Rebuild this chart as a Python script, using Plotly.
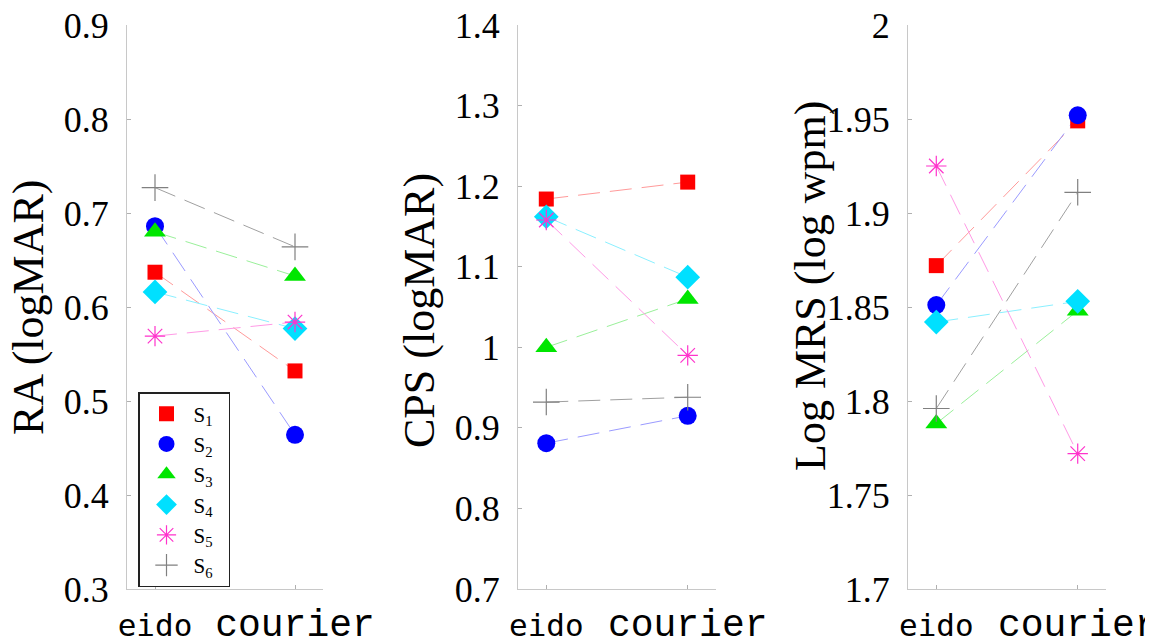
import plotly.graph_objects as go

fonts = ["eido", "courier"]
subjects = ["S<sub>1</sub>", "S<sub>2</sub>", "S<sub>3</sub>", "S<sub>4</sub>", "S<sub>5</sub>", "S<sub>6</sub>"]

ra_eido = [0.637, 0.686, 0.680, 0.616, 0.569, 0.727]
ra_courier = [0.532, 0.464, 0.633, 0.577, 0.584, 0.664]
cps_eido = [1.184, 0.881, 1.000, 1.162, 1.158, 0.932]
cps_courier = [1.205, 0.915, 1.060, 1.087, 0.990, 0.938]
mrs_eido = [1.872, 1.851, 1.788, 1.842, 1.925, 1.796]
mrs_courier = [1.949, 1.952, 1.848, 1.853, 1.772, 1.911]

ra_ticks = [0.3, 0.4, 0.5, 0.6, 0.7, 0.8, 0.9]
ra_ticktext = ["0.3", "0.4", "0.5", "0.6", "0.7", "0.8", "0.9"]
cps_ticks = [0.7, 0.8, 0.9, 1.0, 1.1, 1.2, 1.3, 1.4]
cps_ticktext = ["0.7", "0.8", "0.9", "1", "1.1", "1.2", "1.3", "1.4"]
mrs_ticks = [1.7, 1.75, 1.8, 1.85, 1.9, 1.95, 2.0]
mrs_ticktext = ["1.7", "1.75", "1.8", "1.85", "1.9", "1.95", "2"]

y_titles = ["RA (logMAR)", "CPS (logMAR)", "Log MRS (log wpm)"]

marker_colors = ["#ff0000", "#0000ff", "#00e600", "#00e0ff", "#ff33cc", "#808080"]
line_colors = ["#ff9a9a", "#9a9aff", "#9af09a", "#8af0ff", "#ff9ae6", "#a0a0a0"]
symbols = ["square", "circle", "triangle-up", "diamond", "asterisk-open", "cross-thin-open"]
sizes = [15, 18, 19, 19, 17, 19]

panels = [
    (ra_eido, ra_courier, ra_ticks, ra_ticktext, [0.3, 0.9]),
    (cps_eido, cps_courier, cps_ticks, cps_ticktext, [0.7, 1.4]),
    (mrs_eido, mrs_courier, mrs_ticks, mrs_ticktext, [1.7, 2.0]),
]

SERIF = "Times New Roman, Liberation Serif, serif"
MONO = "Liberation Mono, Courier New, monospace"

# page body has an 8px margin: work in figure pixels = screen pixels - 8
OFF = 8
W, H = 1153 - OFF, 639 - OFF
x_doms = [(127, 323), (518, 716), (908, 1106)]
y_top, y_bot = 25, 589


def fx(px):
    return (px - OFF) / W


def fy(py):
    return 1 - (py - OFF) / H


fig = go.Figure()
for p, (ye, yc, tv, tt, rng) in enumerate(panels):
    xa = "x" if p == 0 else f"x{p+1}"
    ya = "y" if p == 0 else f"y{p+1}"
    for i in range(6):
        fig.add_trace(go.Scatter(
            x=fonts, y=[ye[i], yc[i]], xaxis=xa, yaxis=ya,
            mode="lines", line=dict(color=line_colors[i], width=1, dash="22px,10px"),
            showlegend=False, hoverinfo="skip"))
    for i in range(6):
        open_sym = symbols[i].endswith("open")
        fig.add_trace(go.Scatter(
            x=fonts, y=[ye[i], yc[i]], xaxis=xa, yaxis=ya,
            mode="markers", name=subjects[i] + "\u00a0\u00a0",
            marker=dict(symbol=symbols[i], size=sizes[i], color=marker_colors[i],
                        line=dict(width=1.2 if open_sym else 0, color=marker_colors[i])),
            showlegend=(p == 0)))

axis_common = dict(showline=True, linecolor="#c8c8c8", linewidth=1, ticks="inside",
                   ticklen=4, tickcolor="#b0b0b0", showgrid=False, zeroline=False,
                   mirror=False, automargin=False, ticklabeloverflow="allow")

layout = dict(
    width=W, height=H, plot_bgcolor="white", paper_bgcolor="white",
    margin=dict(l=0, r=0, t=0, b=0, autoexpand=False),
    font=dict(family=SERIF, color="black"),
    legend=dict(x=fx(138), y=fy(392), xanchor="left", yanchor="top",
                bordercolor="#222222", borderwidth=1.5, bgcolor="white",
                font=dict(family=SERIF, size=21, color="black"),
                itemwidth=44, tracegroupgap=0),
    showlegend=True,
)

eido_label = '<span style="font-family:DejaVu Sans Mono;font-size:31px">eido</span>'
for p, (ye, yc, tv, tt, rng) in enumerate(panels):
    sx = "" if p == 0 else str(p + 1)
    x0, x1 = x_doms[p]
    layout["xaxis" + sx] = dict(
        axis_common, domain=[fx(x0), fx(x1)], type="category",
        range=[-0.2, 1.2], anchor="y" + sx,
        tickvals=fonts, ticktext=[eido_label, fonts[1]],
        tickfont=dict(family=MONO, size=38, color="black"),
        ticklabelstandoff=0)
    layout["yaxis" + sx] = dict(
        axis_common, domain=[fy(y_bot), fy(y_top)], range=rng, anchor="x" + sx,
        tickvals=tv, ticktext=tt,
        tickfont=dict(family=SERIF, size=36, color="black"),
        ticklabelstandoff=10)

fig.update_layout(**layout)

title_pos = [(28, 308), (420, 310), (810, 286)]
for p, t in enumerate(y_titles):
    cx, cy = title_pos[p]
    fig.add_annotation(x=fx(cx), y=fy(cy), xref="paper", yref="paper",
                       text=t, textangle=-90, showarrow=False,
                       font=dict(family=SERIF, size=44, color="black"),
                       xanchor="center", yanchor="middle")

fig.write_html("out.html")
